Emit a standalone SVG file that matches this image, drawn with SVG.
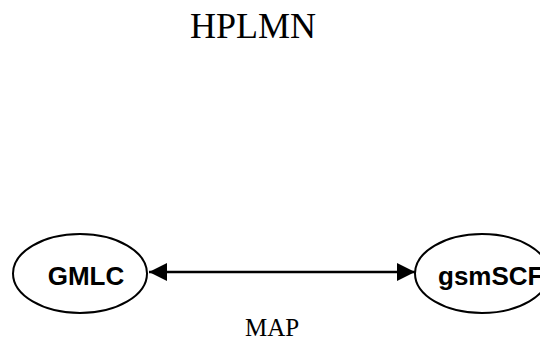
<svg xmlns="http://www.w3.org/2000/svg" width="540" height="338" viewBox="0 0 540 338">
<style>
.node ellipse{fill:#fff;stroke:#000;stroke-width:2}
.nl{font-family:"Liberation Sans",Arial,sans-serif;font-weight:bold;font-size:26px;fill:#000}
.tl{font-family:"Liberation Serif","Times New Roman",serif;fill:#000}
.conn line{stroke:#000;stroke-width:2.5}
</style>
<defs>
<marker id="ah" viewBox="0 0 10 10" refX="10" refY="5" markerWidth="18" markerHeight="20" markerUnits="userSpaceOnUse" orient="auto-start-reverse">
<path d="M0,0L10,5L0,10z" fill="#000"/>
</marker>
</defs>
<rect width="540" height="338" fill="#fff"/>
<text class="tl" x="253" y="38" font-size="36" text-anchor="middle">HPLMN</text>
<g class="conn">
<line x1="149" y1="272" x2="415" y2="272" marker-start="url(#ah)" marker-end="url(#ah)"/>
</g>
<text class="tl" x="272" y="336" font-size="25" text-anchor="middle">MAP</text>
<g id="gmlc" class="node">
<ellipse cx="80" cy="273.5" rx="67" ry="39.5"/>
<text class="nl" x="86" y="285" text-anchor="middle">GMLC</text>
</g>
<g id="gsmscf" class="node">
<ellipse cx="482" cy="273.5" rx="67" ry="39.5"/>
<text class="nl" x="438" y="285">gsmSCF</text>
</g>
</svg>
